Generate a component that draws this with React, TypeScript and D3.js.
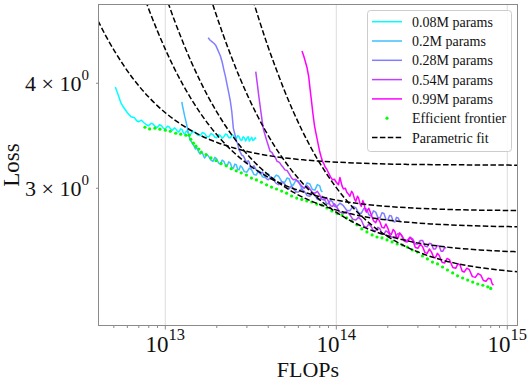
import React, { useEffect, useRef } from "react";
import * as d3 from "d3";

type Pt = [number, number];

const W = 532;
const H = 384;

const runLabels = ["0.08M params", "0.2M params", "0.28M params", "0.54M params", "0.99M params"];
const runColors = ["#00ffff", "#40bfff", "#807fff", "#bf40ff", "#ff00ff"];

// training curves: [FLOPs, loss]
const run008: Pt[] = [
  [5.1e12, 3.96], [5.3e12, 3.875], [5.5e12, 3.79], [5.7e12, 3.745], [6.0e12, 3.69], [6.3e12, 3.65], [6.6e12, 3.64],
  [6.8e12, 3.61], [7.0e12, 3.6], [7.25e12, 3.615], [7.5e12, 3.59], [7.75e12, 3.57], [8.0e12, 3.56], [8.25e12, 3.585],
  [8.5e12, 3.575], [8.75e12, 3.55], [9.0e12, 3.545], [9.25e12, 3.57], [9.5e12, 3.56], [9.75e12, 3.535], [1.0e13, 3.53],
  [1.03e13, 3.555], [1.05e13, 3.55], [1.08e13, 3.525], [1.1e13, 3.515], [1.13e13, 3.54], [1.15e13, 3.53], [1.18e13, 3.505],
  [1.2e13, 3.5], [1.23e13, 3.53], [1.25e13, 3.525], [1.28e13, 3.49], [1.3e13, 3.48], [1.33e13, 3.51], [1.35e13, 3.5],
  [1.38e13, 3.475], [1.4e13, 3.475], [1.45e13, 3.505], [1.5e13, 3.495], [1.55e13, 3.47], [1.6e13, 3.465], [1.65e13, 3.495],
  [1.7e13, 3.485], [1.75e13, 3.455], [1.8e13, 3.455], [1.85e13, 3.485], [1.9e13, 3.475], [1.95e13, 3.45], [2.0e13, 3.445],
  [2.05e13, 3.475], [2.1e13, 3.465], [2.15e13, 3.44], [2.2e13, 3.455], [2.25e13, 3.48], [2.3e13, 3.475], [2.35e13, 3.445],
  [2.4e13, 3.445], [2.45e13, 3.47], [2.5e13, 3.465], [2.55e13, 3.435], [2.6e13, 3.435], [2.65e13, 3.465], [2.7e13, 3.455],
  [2.75e13, 3.425], [2.8e13, 3.42], [2.85e13, 3.455], [2.9e13, 3.445], [2.95e13, 3.415], [3.0e13, 3.44], [3.05e13, 3.455],
  [3.1e13, 3.415], [3.15e13, 3.43], [3.2e13, 3.45], [3.25e13, 3.42], [3.3e13, 3.425], [3.35e13, 3.445], [3.4e13, 3.435],
];

const run02: Pt[] = [
  [1.25e13, 3.8], [1.26e13, 3.76], [1.27e13, 3.735], [1.285e13, 3.69], [1.3e13, 3.65], [1.315e13, 3.615], [1.33e13, 3.58],
  [1.345e13, 3.54], [1.36e13, 3.5], [1.38e13, 3.46], [1.4e13, 3.42], [1.42e13, 3.41], [1.45e13, 3.385], [1.47e13, 3.37],
  [1.5e13, 3.34], [1.52e13, 3.355], [1.55e13, 3.33], [1.58e13, 3.305], [1.6e13, 3.295], [1.63e13, 3.32], [1.65e13, 3.305],
  [1.68e13, 3.27], [1.7e13, 3.26], [1.75e13, 3.29], [1.8e13, 3.27], [1.85e13, 3.24], [1.9e13, 3.23], [1.95e13, 3.265],
  [2.0e13, 3.25], [2.05e13, 3.215], [2.1e13, 3.205], [2.15e13, 3.24], [2.2e13, 3.23], [2.25e13, 3.195], [2.3e13, 3.19],
  [2.35e13, 3.225], [2.4e13, 3.215], [2.45e13, 3.175], [2.5e13, 3.17], [2.55e13, 3.205], [2.6e13, 3.2], [2.65e13, 3.16],
  [2.7e13, 3.155], [2.75e13, 3.19], [2.8e13, 3.18], [2.9e13, 3.14], [3.0e13, 3.135], [3.1e13, 3.17], [3.2e13, 3.155],
  [3.3e13, 3.115], [3.4e13, 3.11], [3.5e13, 3.145], [3.6e13, 3.135], [3.7e13, 3.095], [3.8e13, 3.09], [3.9e13, 3.125],
  [4.0e13, 3.12], [4.15e13, 3.08], [4.3e13, 3.08], [4.45e13, 3.11], [4.6e13, 3.1], [4.8e13, 3.055], [5.0e13, 3.05],
  [5.15e13, 3.085], [5.3e13, 3.08], [5.45e13, 3.03], [5.6e13, 3.025], [5.8e13, 3.065], [6.0e13, 3.06], [6.25e13, 3.005],
  [6.5e13, 3.0], [6.75e13, 3.045], [7.0e13, 3.035], [7.25e13, 2.99], [7.5e13, 2.985], [7.75e13, 3.03], [8.0e13, 3.02],
  [8.15e13, 2.98], [8.3e13, 2.97],
];

const run028: Pt[] = [
  [1.78e13, 4.53], [1.83e13, 4.5], [1.88e13, 4.48], [1.93e13, 4.46], [1.97e13, 4.44], [2.0e13, 4.41], [2.03e13, 4.38],
  [2.07e13, 4.34], [2.1e13, 4.31], [2.15e13, 4.24], [2.2e13, 4.15], [2.25e13, 4.07], [2.3e13, 3.98], [2.35e13, 3.895],
  [2.4e13, 3.81], [2.45e13, 3.695], [2.5e13, 3.535], [2.55e13, 3.48], [2.6e13, 3.42], [2.65e13, 3.39], [2.7e13, 3.33],
  [2.75e13, 3.31], [2.8e13, 3.285], [2.85e13, 3.28], [2.9e13, 3.26], [2.95e13, 3.235], [3.0e13, 3.215], [3.05e13, 3.235],
  [3.1e13, 3.22], [3.15e13, 3.18], [3.2e13, 3.17], [3.3e13, 3.19], [3.4e13, 3.155], [3.5e13, 3.14], [3.6e13, 3.12],
  [3.7e13, 3.135], [3.8e13, 3.11], [3.9e13, 3.08], [4.0e13, 3.07], [4.15e13, 3.095], [4.3e13, 3.07], [4.45e13, 3.04],
  [4.6e13, 3.03], [4.8e13, 3.055], [5.0e13, 3.035], [5.15e13, 3.0], [5.3e13, 2.995], [5.45e13, 3.02], [5.6e13, 3.0],
  [5.8e13, 2.97], [6.0e13, 2.97], [6.25e13, 2.995], [6.5e13, 2.975], [6.75e13, 2.94], [7.0e13, 2.935], [7.25e13, 2.965],
  [7.5e13, 2.945], [7.75e13, 2.91], [8.0e13, 2.905], [8.25e13, 2.935], [8.5e13, 2.915], [8.75e13, 2.88], [9.0e13, 2.875],
  [9.25e13, 2.905], [9.5e13, 2.89], [9.75e13, 2.855], [1.0e14, 2.85], [1.05e14, 2.88], [1.1e14, 2.86], [1.15e14, 2.825],
  [1.2e14, 2.82], [1.25e14, 2.855], [1.3e14, 2.845], [1.35e14, 2.805], [1.4e14, 2.8], [1.45e14, 2.84], [1.5e14, 2.835],
  [1.55e14, 2.79], [1.6e14, 2.78], [1.65e14, 2.82], [1.7e14, 2.81], [1.75e14, 2.77], [1.8e14, 2.765], [1.85e14, 2.805],
  [1.9e14, 2.8], [1.95e14, 2.755], [2.0e14, 2.75], [2.05e14, 2.785], [2.1e14, 2.78], [2.15e14, 2.74], [2.2e14, 2.735],
  [2.25e14, 2.77], [2.3e14, 2.765], [2.35e14, 2.74],
];

const run054: Pt[] = [
  [3.38e13, 4.13], [3.45e13, 3.995], [3.52e13, 3.865], [3.6e13, 3.735], [3.68e13, 3.614], [3.75e13, 3.525], [3.85e13, 3.46],
  [3.95e13, 3.4], [4.1e13, 3.32], [4.2e13, 3.31], [4.3e13, 3.28], [4.4e13, 3.265], [4.5e13, 3.23], [4.65e13, 3.22],
  [4.8e13, 3.19], [4.9e13, 3.175], [5.0e13, 3.155], [5.15e13, 3.15], [5.3e13, 3.12], [5.45e13, 3.09], [5.6e13, 3.07],
  [5.8e13, 3.075], [6.0e13, 3.05], [6.25e13, 3.02], [6.5e13, 3.0], [6.75e13, 3.02], [7.0e13, 2.995], [7.25e13, 2.965],
  [7.5e13, 2.96], [7.75e13, 2.975], [8.0e13, 2.945], [8.25e13, 2.91], [8.5e13, 2.905], [8.75e13, 2.925], [9.0e13, 2.895],
  [9.25e13, 2.86], [9.5e13, 2.855], [9.75e13, 2.875], [1.0e14, 2.855], [1.05e14, 2.81], [1.1e14, 2.8], [1.15e14, 2.815],
  [1.2e14, 2.79], [1.25e14, 2.755], [1.3e14, 2.75], [1.35e14, 2.77], [1.4e14, 2.75], [1.45e14, 2.705], [1.5e14, 2.695],
  [1.55e14, 2.72], [1.6e14, 2.7], [1.65e14, 2.67], [1.7e14, 2.67], [1.75e14, 2.695], [1.8e14, 2.685], [1.85e14, 2.65],
  [1.9e14, 2.645], [1.95e14, 2.67], [2.0e14, 2.66], [2.1e14, 2.625], [2.2e14, 2.625], [2.3e14, 2.65], [2.4e14, 2.64],
  [2.5e14, 2.605], [2.6e14, 2.6], [2.7e14, 2.625], [2.8e14, 2.61], [2.9e14, 2.575], [3.0e14, 2.575], [3.1e14, 2.6],
  [3.2e14, 2.6], [3.3e14, 2.56], [3.4e14, 2.555], [3.5e14, 2.58], [3.6e14, 2.575], [3.7e14, 2.54], [3.8e14, 2.54],
  [3.9e14, 2.565], [4.0e14, 2.56], [4.1e14, 2.525], [4.2e14, 2.525], [4.3e14, 2.55], [4.4e14, 2.547],
];

const run099: Pt[] = [
  [6.3e13, 4.37], [6.45e13, 4.31], [6.6e13, 4.24], [6.75e13, 4.17], [6.9e13, 4.07], [7.0e13, 3.96], [7.15e13, 3.82],
  [7.3e13, 3.68], [7.45e13, 3.565], [7.6e13, 3.49], [7.8e13, 3.4], [8.0e13, 3.315], [8.15e13, 3.27], [8.3e13, 3.23],
  [8.45e13, 3.21], [8.6e13, 3.18], [8.8e13, 3.16], [9.0e13, 3.13], [9.25e13, 3.095], [9.5e13, 3.07], [9.75e13, 3.075],
  [1.0e14, 3.05], [1.03e14, 3.03], [1.05e14, 3.09], [1.08e14, 3.02], [1.1e14, 2.995], [1.13e14, 3.0], [1.15e14, 2.97],
  [1.18e14, 2.95], [1.2e14, 2.935], [1.23e14, 2.975], [1.25e14, 2.96], [1.28e14, 2.91], [1.3e14, 2.895], [1.33e14, 2.935],
  [1.35e14, 2.92], [1.38e14, 2.87], [1.4e14, 2.855], [1.43e14, 2.9], [1.45e14, 2.88], [1.48e14, 2.825], [1.5e14, 2.81],
  [1.55e14, 2.84], [1.6e14, 2.79], [1.65e14, 2.745], [1.7e14, 2.73], [1.75e14, 2.765], [1.8e14, 2.735], [1.85e14, 2.695],
  [1.9e14, 2.69], [1.95e14, 2.72], [2.0e14, 2.69], [2.05e14, 2.65], [2.1e14, 2.645], [2.15e14, 2.68], [2.2e14, 2.665],
  [2.25e14, 2.625], [2.3e14, 2.62], [2.35e14, 2.655], [2.4e14, 2.64], [2.5e14, 2.595], [2.6e14, 2.59], [2.7e14, 2.62],
  [2.8e14, 2.6], [2.9e14, 2.55], [3.0e14, 2.545], [3.1e14, 2.575], [3.2e14, 2.555], [3.3e14, 2.515], [3.4e14, 2.51],
  [3.5e14, 2.54], [3.6e14, 2.52], [3.7e14, 2.485], [3.8e14, 2.48], [3.9e14, 2.51], [4.0e14, 2.495], [4.15e14, 2.45],
  [4.3e14, 2.445], [4.45e14, 2.475], [4.6e14, 2.465], [4.8e14, 2.415], [5.0e14, 2.41], [5.15e14, 2.44], [5.3e14, 2.43],
  [5.45e14, 2.39], [5.6e14, 2.385], [5.8e14, 2.41], [6.0e14, 2.4], [6.25e14, 2.355], [6.5e14, 2.35], [6.75e14, 2.375],
  [7.0e14, 2.365], [7.25e14, 2.33], [7.5e14, 2.325], [7.75e14, 2.345], [8.0e14, 2.34], [8.15e14, 2.31], [8.3e14, 2.3],
];

const runs = [run008, run02, run028, run054, run099];

const frontier: Pt[] = [
  [7.6e12, 3.546], [8.1e12, 3.53], [8.7e12, 3.537], [9.3e12, 3.527], [1.0e13, 3.517], [1.07e13, 3.507], [1.15e13, 3.488],
  [1.23e13, 3.479], [1.32e13, 3.469], [1.38e13, 3.469], [1.41e13, 3.43], [1.46e13, 3.394], [1.51e13, 3.367], [1.57e13, 3.34],
  [1.62e13, 3.31], [1.73e13, 3.29], [1.85e13, 3.26], [1.98e13, 3.236], [2.12e13, 3.21], [2.27e13, 3.19], [2.43e13, 3.165],
  [2.6e13, 3.147], [2.78e13, 3.13], [2.98e13, 3.11], [3.19e13, 3.085], [3.41e13, 3.069], [3.65e13, 3.05], [3.91e13, 3.028],
  [4.18e13, 3.01], [4.47e13, 2.994], [4.79e13, 2.977], [5.12e13, 2.96], [5.48e13, 2.937], [5.87e13, 2.92], [6.28e13, 2.91],
  [6.72e13, 2.897], [7.19e13, 2.889], [7.69e13, 2.873], [8.23e13, 2.865], [8.81e13, 2.842], [9.42e13, 2.819], [1.01e14, 2.8],
  [1.08e14, 2.789], [1.15e14, 2.766], [1.23e14, 2.743], [1.32e14, 2.714], [1.41e14, 2.684], [1.51e14, 2.662], [1.62e14, 2.64],
  [1.73e14, 2.625], [1.85e14, 2.618], [1.98e14, 2.604], [2.12e14, 2.59], [2.27e14, 2.575], [2.43e14, 2.568], [2.6e14, 2.554],
  [2.78e14, 2.533], [2.98e14, 2.519], [3.19e14, 2.492], [3.41e14, 2.472], [3.65e14, 2.451], [3.91e14, 2.438], [4.18e14, 2.418],
  [4.47e14, 2.398], [4.79e14, 2.379], [5.12e14, 2.36], [5.48e14, 2.346], [5.87e14, 2.333], [6.28e14, 2.32], [6.72e14, 2.308],
  [7.19e14, 2.3], [7.69e14, 2.29], [8.0e14, 2.28],
];

// parametric fit curves, one per model size
const fit008: Pt[] = [
  [4.04e12, 4.748], [4.53e12, 4.538], [5.09e12, 4.357], [5.71e12, 4.2], [6.4e12, 4.064], [7.18e12, 3.947], [8.06e12, 3.845],
  [9.04e12, 3.757], [1.015e13, 3.681], [1.278e13, 3.559], [1.608e13, 3.467], [2.025e13, 3.399], [2.55e13, 3.348],
  [3.21e13, 3.309], [4.04e13, 3.28], [6.4e13, 3.243], [1.015e14, 3.222], [1.608e14, 3.21], [2.55e14, 3.203], [4.04e14, 3.2],
  [6.4e14, 3.198], [1.16e15, 3.196],
];
const fit02: Pt[] = [
  [7.15e12, 5.218], [8.02e12, 4.894], [9.0e12, 4.614], [1.01e13, 4.371], [1.133e13, 4.161], [1.271e13, 3.98], [1.427e13, 3.823],
  [1.601e13, 3.687], [1.796e13, 3.57], [2.015e13, 3.468], [2.261e13, 3.38], [2.537e13, 3.304], [3.19e13, 3.182], [4.02e13, 3.09],
  [5.06e13, 3.022], [6.37e13, 2.971], [8.02e13, 2.932], [1.01e14, 2.903], [1.601e14, 2.866], [2.537e14, 2.845], [4.02e14, 2.833],
  [6.37e14, 2.826], [1.01e15, 2.823], [1.16e15, 2.822],
];
const fit028: Pt[] = [
  [1.001e13, 5.094], [1.123e13, 4.77], [1.26e13, 4.49], [1.414e13, 4.247], [1.587e13, 4.037], [1.78e13, 3.856], [1.998e13, 3.699],
  [2.241e13, 3.563], [2.515e13, 3.446], [2.821e13, 3.344], [3.166e13, 3.256], [3.552e13, 3.18], [4.47e13, 3.058], [5.63e13, 2.966],
  [7.09e13, 2.898], [8.92e13, 2.847], [1.123e14, 2.808], [1.414e14, 2.779], [2.241e14, 2.742], [3.552e14, 2.721], [5.63e14, 2.709],
  [8.92e14, 2.702], [1.175e15, 2.7],
];
const fit054: Pt[] = [
  [1.721e13, 5.281], [1.931e13, 4.907], [2.167e13, 4.583], [2.431e13, 4.303], [2.727e13, 4.06], [3.06e13, 3.85], [3.433e13, 3.669],
  [3.852e13, 3.512], [4.32e13, 3.376], [4.85e13, 3.259], [5.44e13, 3.157], [6.11e13, 3.069], [6.85e13, 2.993], [8.62e13, 2.871],
  [1.086e14, 2.779], [1.367e14, 2.711], [1.721e14, 2.66], [2.167e14, 2.621], [2.727e14, 2.592], [4.32e14, 2.555], [6.85e14, 2.534],
  [1.086e15, 2.522], [1.16e15, 2.521],
];
const fit099: Pt[] = [
  [3.155e13, 5.131], [3.54e13, 4.757], [3.97e13, 4.433], [4.46e13, 4.153], [5.0e13, 3.91], [5.61e13, 3.7], [6.29e13, 3.519],
  [7.06e13, 3.362], [7.92e13, 3.226], [8.89e13, 3.109], [9.98e13, 3.007], [1.12e14, 2.919], [1.256e14, 2.843], [1.581e14, 2.721],
  [1.991e14, 2.629], [2.506e14, 2.561], [3.155e14, 2.51], [3.97e14, 2.471], [5.0e14, 2.442], [7.92e14, 2.405], [1.146e15, 2.386],
];

const fits = [fit008, fit02, fit028, fit054, fit099];

const xTicks = [1e13, 1e14, 1e15];
const xTickExp = ["13", "14", "15"];
const xMinor = [5e12, 6e12, 7e12, 8e12, 9e12, 2e13, 3e13, 4e13, 5e13, 6e13, 7e13, 8e13, 9e13, 2e14, 3e14, 4e14, 5e14, 6e14, 7e14, 8e14, 9e14];
const yTicks = [3, 4];
const yTickMant = ["3", "4"];

const FONT = "'Liberation Serif', 'Times New Roman', serif";

export default function App() {
  const ref = useRef<SVGSVGElement>(null);

  useEffect(() => {
    const svg = d3.select(ref.current);
    svg.selectAll("*").remove();

    const left = 98, right = 518, top = 4, bottom = 326;
    const x = d3.scaleLog().domain([4.04e12, 1.155e15]).range([left, right]);
    const y = d3.scaleLog().domain([2.057, 4.97]).range([bottom, top]);

    svg.append("rect").attr("width", W).attr("height", H).attr("fill", "white");

    svg.append("defs").append("clipPath").attr("id", "plotClip")
      .append("rect").attr("x", left).attr("y", top).attr("width", right - left).attr("height", bottom - top);

    // vertical grid at decades
    svg.append("g").selectAll("line").data(xTicks).enter().append("line")
      .attr("x1", (d) => x(d)).attr("x2", (d) => x(d))
      .attr("y1", top).attr("y2", bottom)
      .attr("stroke", "#dcdcdc").attr("stroke-width", 1);

    const plot = svg.append("g").attr("clip-path", "url(#plotClip)");
    const line = d3.line<Pt>().x((d) => x(d[0])).y((d) => y(d[1]));

    runs.forEach((r, i) => {
      plot.append("path").datum(r).attr("d", line)
        .attr("fill", "none").attr("stroke", runColors[i])
        .attr("stroke-width", 1.5).attr("stroke-linejoin", "round");
    });

    plot.append("g").selectAll("circle").data(frontier).enter().append("circle")
      .attr("cx", (d) => x(d[0])).attr("cy", (d) => y(d[1])).attr("r", 1.6)
      .attr("fill", "#00ff00");

    const smooth = d3.line<Pt>().x((d) => x(d[0])).y((d) => y(d[1])).curve(d3.curveMonotoneX);
    fits.forEach((f) => {
      plot.append("path").datum(f).attr("d", smooth)
        .attr("fill", "none").attr("stroke", "black")
        .attr("stroke-width", 1.5).attr("stroke-dasharray", "5.5,2.4");
    });

    // frame
    svg.append("rect").attr("x", left + 0.5).attr("y", top + 0.5)
      .attr("width", right - left - 1).attr("height", bottom - top - 1)
      .attr("fill", "none").attr("stroke", "#8a8a8a").attr("stroke-width", 1);

    // ticks
    const ax = svg.append("g").attr("stroke", "#8a8a8a");
    ax.selectAll("line.maj").data(xTicks).enter().append("line")
      .attr("x1", (d) => x(d)).attr("x2", (d) => x(d)).attr("y1", bottom).attr("y2", bottom + 3.5);
    ax.selectAll("line.min").data(xMinor).enter().append("line")
      .attr("x1", (d) => x(d)).attr("x2", (d) => x(d)).attr("y1", bottom).attr("y2", bottom + 2);
    ax.selectAll("line.y").data(yTicks).enter().append("line")
      .attr("x1", left - 2).attr("x2", left).attr("y1", (d) => y(d)).attr("y2", (d) => y(d));

    const xl = svg.append("g").attr("font-family", FONT).attr("fill", "#111");
    xTicks.forEach((t, i) => {
      const tx = xl.append("text").attr("x", x(t)).attr("y", 352)
        .attr("text-anchor", "middle").attr("font-size", 23);
      tx.append("tspan").text("10");
      tx.append("tspan").attr("dy", -12.5).attr("font-size", 16.5).text(xTickExp[i]);
    });
    yTicks.forEach((t, i) => {
      const ty = xl.append("text").attr("x", 89).attr("y", y(t) + 8)
        .attr("text-anchor", "end").attr("font-size", 22);
      ty.append("tspan").text(yTickMant[i] + " \u00d7 10");
      ty.append("tspan").attr("dy", -11).attr("font-size", 15).text("0");
    });

    xl.append("text").attr("x", (left + right) / 2).attr("y", 377)
      .attr("text-anchor", "middle").attr("font-size", 22).text("FLOPs");
    xl.append("text").attr("transform", "translate(19,165) rotate(-90)")
      .attr("text-anchor", "middle").attr("font-size", 23).text("Loss");

    // legend
    const lg = svg.append("g").attr("font-family", FONT);
    lg.append("rect").attr("x", 367.5).attr("y", 10.5).attr("width", 144).attr("height", 141).attr("rx", 3)
      .attr("fill", "white").attr("fill-opacity", 0.8).attr("stroke", "#cccccc");
    const rowY = (i: number) => 21.7 + 19.3 * i;
    const entries = [...runLabels, "Efficient frontier", "Parametric fit"];
    entries.forEach((label, i) => {
      const cy = rowY(i);
      if (i < 5) {
        lg.append("line").attr("x1", 372).attr("x2", 402).attr("y1", cy).attr("y2", cy)
          .attr("stroke", runColors[i]).attr("stroke-width", 1.5);
      } else if (i === 5) {
        lg.append("circle").attr("cx", 387).attr("cy", cy).attr("r", 1.6).attr("fill", "#00ff00");
      } else {
        lg.append("line").attr("x1", 372).attr("x2", 402).attr("y1", cy).attr("y2", cy)
          .attr("stroke", "black").attr("stroke-width", 1.5).attr("stroke-dasharray", "5.5,2.4");
      }
      lg.append("text").attr("x", 412).attr("y", cy + 5).attr("font-size", 14).attr("fill", "#111").text(label);
    });
  }, []);

  return (
    <div>
      <svg ref={ref} width={W} height={H} style={{ position: "absolute", left: 0, top: 0 }} />
    </div>
  );
}
